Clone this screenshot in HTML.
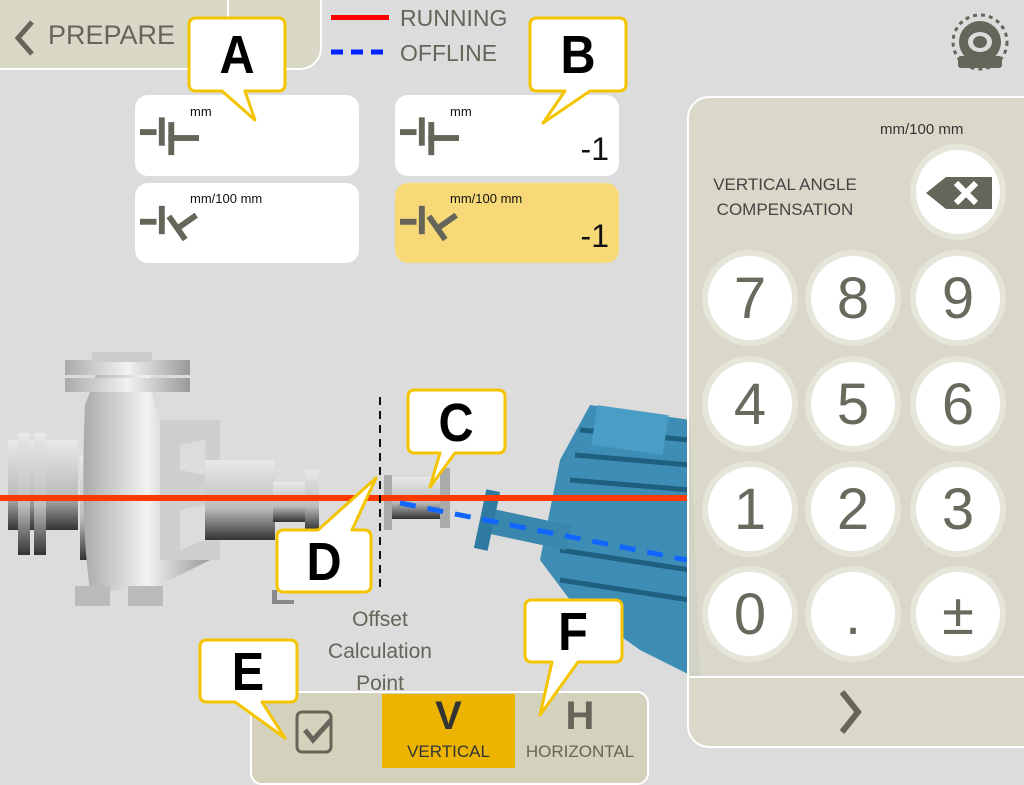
<!DOCTYPE html>
<html><head><meta charset="utf-8">
<style>
body{margin:0;width:1024px;height:768px;overflow:hidden;background:#dcdcdc;font-family:"Liberation Sans",sans-serif;position:relative}
.abs{position:absolute}
.box{position:absolute;background:#fff;border-radius:13px}
.unit{position:absolute;font-size:13px;color:#111}
.val{position:absolute;right:10px;bottom:8px;font-size:32px;color:#111}
.key{position:absolute;width:84px;height:84px;border-radius:50%;background:#fff;box-shadow:0 0 0 6px #e6e5da;color:#6a695e;font-size:58px;text-align:center;line-height:86px}
</style></head><body>
<div class="abs" style="left:-10px;top:-10px;width:328px;height:76px;background:#d9d7c6;border:2px solid #fff;border-radius:0 0 22px 0"></div>
<div class="abs" style="left:227px;top:0;width:2px;height:66px;background:#fff"></div>
<div class="abs" style="left:48px;top:20px;font-size:27px;color:#666559">PREPARE</div>
<svg class="abs" style="left:10px;top:18px" width="30" height="40"><polyline points="22,4 8,20 22,36" fill="none" stroke="#666559" stroke-width="5"/></svg>
<div class="abs" style="left:331px;top:15px;width:58px;height:5px;background:#f00"></div>
<div class="abs" style="left:400px;top:5px;font-size:23px;color:#666559">RUNNING</div>
<svg class="abs" style="left:331px;top:48px" width="60" height="8"><line x1="0" y1="4" x2="58" y2="4" stroke="#0022ff" stroke-width="5" stroke-dasharray="12,8"/></svg>
<div class="abs" style="left:400px;top:40px;font-size:23px;color:#666559">OFFLINE</div>
<svg class="abs" style="left:948px;top:12px" width="64" height="60">
<circle cx="32" cy="30" r="27" fill="none" stroke="#666559" stroke-width="3" stroke-dasharray="4,4"/>
<circle cx="32" cy="30" r="21" fill="#666559"/><ellipse cx="32" cy="30" rx="12" ry="10" fill="#dcdcdc"/><ellipse cx="32" cy="30" rx="7" ry="6" fill="#666559"/>
<rect x="10" y="44" width="44" height="12" rx="3" fill="#666559"/></svg>
<div class="box" style="left:135px;top:95px;width:224px;height:81px"></div>
<div class="box" style="left:135px;top:183px;width:224px;height:80px"></div>
<div class="box" style="left:395px;top:95px;width:224px;height:81px"></div>
<div class="box" style="left:395px;top:183px;width:224px;height:80px;background:#f7d977"></div>
<div class="unit" style="left:190px;top:104px">mm</div>
<div class="unit" style="left:190px;top:191px">mm/100 mm</div>
<div class="unit" style="left:450px;top:104px">mm</div>
<div class="unit" style="left:450px;top:191px">mm/100 mm</div>
<div class="abs" style="left:395px;top:95px;width:224px;height:81px"><div class="val">-1</div></div>
<div class="abs" style="left:395px;top:183px;width:224px;height:80px"><div class="val">-1</div></div>
<svg class="abs" style="left:140px;top:115px" width="70" height="180">
<g fill="#666559" transform="scale(1.18)"><rect x="0" y="12" width="14" height="5"/><rect x="16" y="2" width="5" height="24"/><rect x="24" y="6" width="5" height="28"/><rect x="24" y="17" width="26" height="5"/>
<rect x="0" y="88" width="14" height="5"/><rect x="16" y="77" width="5" height="24"/><g transform="translate(31,96) rotate(-35)"><rect x="-2" y="-12" width="5" height="24"/><rect x="0" y="-2" width="20" height="5"/></g></g></svg>
<svg class="abs" style="left:400px;top:115px" width="70" height="180">
<g fill="#666559" transform="scale(1.18)"><rect x="0" y="12" width="14" height="5"/><rect x="16" y="2" width="5" height="24"/><rect x="24" y="6" width="5" height="28"/><rect x="24" y="17" width="26" height="5"/>
<rect x="0" y="88" width="14" height="5"/><rect x="16" y="77" width="5" height="24"/><g transform="translate(31,96) rotate(-35)"><rect x="-2" y="-12" width="5" height="24"/><rect x="0" y="-2" width="20" height="5"/></g></g></svg>

<svg class="abs" style="left:0;top:0" width="1024" height="768">
<defs>
<linearGradient id="gv" x1="0" y1="0" x2="0" y2="1"><stop offset="0" stop-color="#e8e8e8"/><stop offset=".6" stop-color="#bdbdbd"/><stop offset="1" stop-color="#333"/></linearGradient>
<linearGradient id="gh" x1="0" y1="0" x2="1" y2="0"><stop offset="0" stop-color="#aaa"/><stop offset=".5" stop-color="#f2f2f2"/><stop offset="1" stop-color="#999"/></linearGradient>
</defs>
<rect x="8" y="440" width="70" height="90" fill="url(#gv)"/>
<rect x="18" y="433" width="12" height="122" fill="url(#gv)"/><rect x="34" y="433" width="12" height="122" fill="url(#gv)"/>
<rect x="80" y="455" width="60" height="105" fill="url(#gv)"/>
<path d="M85 405 Q95 380 100 360 L150 360 Q150 400 160 420 L210 450 L210 560 L150 590 L90 590 Q80 520 85 405Z" fill="url(#gh)"/>
<rect x="65" y="360" width="125" height="15" fill="url(#gh)"/><rect x="65" y="378" width="125" height="14" fill="url(#gh)"/>
<rect x="92" y="352" width="60" height="10" fill="#ccc"/>
<rect x="160" y="420" width="60" height="140" fill="#cfcfcf"/>
<path d="M180 445 L205 440 L205 475 L180 470Z M180 510 L205 505 L205 540 L180 550Z" fill="#dcdcdc"/>
<rect x="205" y="460" width="70" height="80" fill="url(#gv)"/>
<rect x="273" y="482" width="45" height="40" fill="url(#gv)"/>
<rect x="305" y="470" width="14" height="60" fill="url(#gv)"/>
<rect x="75" y="586" width="35" height="20" fill="#bbb"/><rect x="128" y="586" width="35" height="20" fill="#bbb"/>
<rect x="272" y="590" width="5" height="14" fill="#888"/><rect x="272" y="600" width="22" height="4" fill="#888"/>
<rect x="386" y="477" width="60" height="42" fill="url(#gv)"/><rect x="440" y="468" width="10" height="60" fill="#aaa"/><rect x="384" y="475" width="8" height="55" fill="#aaa"/>
<path d="M560 460 L590 405 L690 420 L700 680 L640 650 L570 600 L540 560Z" fill="#3e8db5"/>
<path d="M580 430 L690 440 M575 455 L690 465 M570 480 L690 490 M560 550 L690 570 M560 580 L690 600" stroke="#1f5f80" stroke-width="5"/>
<rect x="594" y="410" width="72" height="40" fill="#4a9dc7" transform="rotate(8 630 430)"/>
<rect x="480" y="515" width="90" height="25" fill="#3a87ae" transform="rotate(12 520 527)"/>
<rect x="480" y="490" width="14" height="60" fill="#2f7aa0" transform="rotate(12 487 520)"/>
<line x1="0" y1="498" x2="687" y2="498" stroke="#ff3a00" stroke-width="6"/>
<line x1="400" y1="503" x2="687" y2="560" stroke="#1166ff" stroke-width="5" stroke-dasharray="16,12"/>
<line x1="380" y1="397" x2="380" y2="590" stroke="#111" stroke-width="2" stroke-dasharray="8,6"/>
</svg>
<div class="abs" style="left:300px;top:604px;width:160px;text-align:center;font-size:21px;line-height:32px;color:#666559">Offset<br>Calculation<br>Point</div>

<div class="abs" style="left:250px;top:691px;width:395px;height:90px;background:#d4d2bc;border:2px solid #fff;border-radius:12px"></div>
<div class="abs" style="left:382px;top:694px;width:133px;height:74px;background:#ecb400"></div>
<svg class="abs" style="left:293px;top:708px" width="50" height="50"><rect x="4" y="4" width="34" height="40" rx="5" fill="none" stroke="#666559" stroke-width="3"/><polyline points="12,22 20,32 38,12" fill="none" stroke="#666559" stroke-width="5"/></svg>
<div class="abs" style="left:382px;top:694px;width:133px;text-align:center;font-size:40px;font-weight:bold;color:#333">V</div>
<div class="abs" style="left:382px;top:742px;width:133px;text-align:center;font-size:17px;color:#333">VERTICAL</div>
<div class="abs" style="left:515px;top:694px;width:130px;text-align:center;font-size:40px;font-weight:bold;color:#666559">H</div>
<div class="abs" style="left:515px;top:742px;width:130px;text-align:center;font-size:17px;color:#666559">HORIZONTAL</div>

<div class="abs" style="left:687px;top:96px;width:360px;height:648px;background:rgba(217,215,198,.95);border:2px solid #fff;border-radius:22px"></div>
<div class="abs" style="left:689px;top:676px;width:340px;height:2px;background:#fff"></div>
<svg class="abs" style="left:836px;top:688px" width="30" height="50"><polyline points="6,4 22,24 6,44" fill="none" stroke="#666559" stroke-width="6"/></svg>
<div class="abs" style="left:880px;top:121px;font-size:15px;color:#333">mm/100 mm</div>
<div class="abs" style="left:700px;top:172px;width:170px;text-align:center;font-size:17px;line-height:25px;color:#444">VERTICAL ANGLE<br>COMPENSATION</div>
<div class="key" style="left:916px;top:150px;width:84px;height:84px"></div>
<svg class="abs" style="left:924px;top:175px" width="70" height="36"><path d="M2 18 L22 2 L68 2 L68 34 L22 34Z" fill="#666559"/><path d="M32 8 L52 28 M52 8 L32 28" stroke="#fff" stroke-width="6"/></svg>
<div class="key" style="left:708px;top:256px">7</div>
<div class="key" style="left:811px;top:256px">8</div>
<div class="key" style="left:916px;top:256px">9</div>
<div class="key" style="left:708px;top:362px">4</div>
<div class="key" style="left:811px;top:362px">5</div>
<div class="key" style="left:916px;top:362px">6</div>
<div class="key" style="left:708px;top:467px">1</div>
<div class="key" style="left:811px;top:467px">2</div>
<div class="key" style="left:916px;top:467px">3</div>
<div class="key" style="left:708px;top:572px">0</div>
<div class="key" style="left:811px;top:572px">.</div>
<div class="key" style="left:916px;top:572px">±</div>

<svg class="abs" style="left:0;top:0" width="1024" height="768" font-family="Liberation Sans" font-weight="bold" font-size="54" text-anchor="middle">
<g fill="#fff" stroke="#f5c400" stroke-width="3" stroke-linejoin="round">
<path d="M196 18 H278 Q285 18 285 25 V84 Q285 91 278 91 H245 L255 120 L222 91 H196 Q189 91 189 84 V25 Q189 18 196 18Z"/>
<path d="M537 18 H619 Q626 18 626 25 V84 Q626 91 619 91 H590 L543 123 L565 91 H537 Q530 91 530 84 V25 Q530 18 537 18Z"/>
<path d="M415 390 H498 Q505 390 505 397 V446 Q505 453 498 453 H455 L430 487 L440 453 H415 Q408 453 408 446 V397 Q408 390 415 390Z"/>
<path d="M284 530 H318 L376 478 L352 530 H364 Q371 530 371 537 V585 Q371 592 364 592 H284 Q277 592 277 585 V537 Q277 530 284 530Z"/>
<path d="M207 640 H290 Q297 640 297 647 V695 Q297 702 290 702 H262 L285 738 L235 702 H207 Q200 702 200 695 V647 Q200 640 207 640Z"/>
<path d="M532 600 H615 Q622 600 622 607 V655 Q622 662 615 662 H578 L540 715 L552 662 H532 Q525 662 525 655 V607 Q525 600 532 600Z"/>
</g>
<g fill="#000">
<text transform="translate(237,73) scale(.9,1)">A</text><text transform="translate(578,73) scale(.9,1)">B</text><text transform="translate(456,441) scale(.9,1)">C</text><text transform="translate(324,580) scale(.9,1)">D</text><text transform="translate(248,690) scale(.9,1)">E</text><text transform="translate(573,650) scale(.9,1)">F</text>
</g></svg>
</body></html>
